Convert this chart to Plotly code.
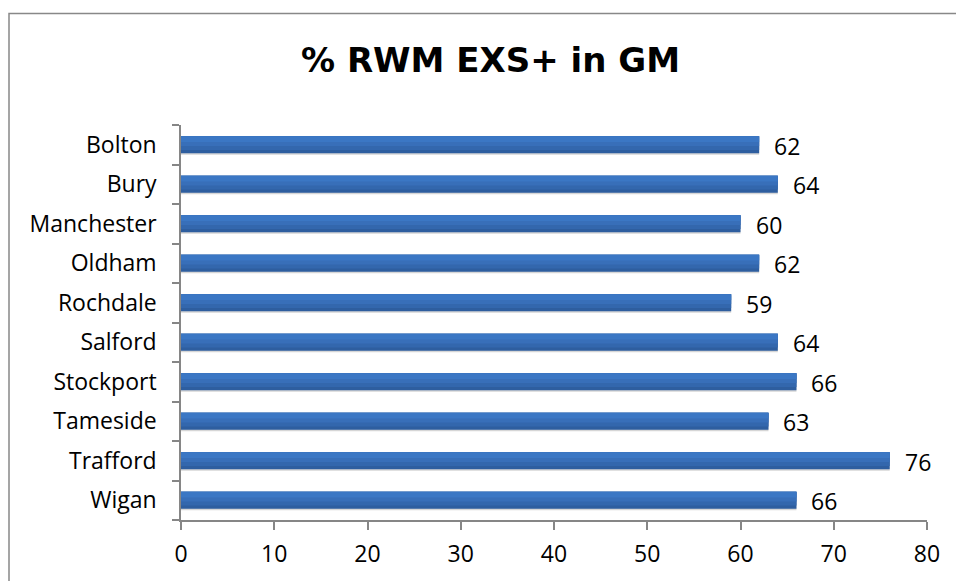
import plotly.graph_objects as go

categories = ["Bolton", "Bury", "Manchester", "Oldham", "Rochdale", "Salford",
              "Stockport", "Tameside", "Trafford", "Wigan"]
values = [62, 64, 60, 62, 59, 64, 66, 63, 76, 66]
x_ticks = [0, 10, 20, 30, 40, 50, 60, 70, 80]
title_text = "% RWM EXS+ in GM"

FONT = "Open Sans, Liberation Sans, sans-serif"
TITLE_FONT = "DejaVu Sans, Open Sans, sans-serif"

W, H = 956, 581
L, R, T, B = 181, 927, 125, 522
pw, ph = R - L, B - T

fig = go.Figure()
layers = [
    # (offset, width, colour)
    (-0.25, 0.43, "#d6d6d6"),
    (-0.215, 0.43, "#2e5e9f"),
    (-0.13, 0.345, "#3367ad"),
    (-0.03, 0.245, "#386fb9"),
    (0.07, 0.145, "#3b77c4"),
]
for off, wd, col in layers:
    fig.add_trace(go.Bar(
        y=categories, x=values, orientation="h", width=wd, offset=off,
        marker=dict(color=col, line=dict(width=0)),
        hoverinfo="skip", showlegend=False,
    ))

for c, v in zip(categories, values):
    fig.add_annotation(x=v, y=c, text=str(v), showarrow=False,
                       xanchor="left", xshift=13, yshift=-1,
                       font=dict(family=FONT, size=23, color="#000000"))

fig.update_layout(
    width=W, height=H,
    margin=dict(l=L, r=W - R, t=T, b=H - B),
    paper_bgcolor="white", plot_bgcolor="white",
    barmode="overlay",
    title=dict(text="<b>" + title_text + "</b>", x=490.5 / W, xanchor="center",
               y=1 - 60 / H, yanchor="middle",
               font=dict(family=TITLE_FONT, size=34, color="#000000")),
    xaxis=dict(range=[0, 80], tickvals=x_ticks, ticktext=[str(t) for t in x_ticks],
               showgrid=False, zeroline=False, showline=True,
               linecolor="#868686", linewidth=1.5, ticks="outside",
               ticklen=8, tickcolor="#868686", tickwidth=1.5,
               ticklabelstandoff=5,
               tickfont=dict(family=FONT, size=23, color="#000000")),
    yaxis=dict(categoryorder="array", categoryarray=categories[::-1],
               showgrid=False, zeroline=False, showline=True,
               linecolor="#868686", linewidth=1.5, ticks="outside",
               ticklen=7, tickcolor="#868686", tickwidth=1.5,
               tickson="boundaries", ticklabelstandoff=18,
               tickfont=dict(family=FONT, size=23, color="#000000")),
    shapes=[dict(type="rect", xref="paper", yref="paper",
                 x0=(9 - L) / pw, x1=(975 - L) / pw,
                 y0=(B - 600) / ph, y1=(B - 13) / ph,
                 line=dict(color="#888888", width=1.5), layer="below")],
)

fig.write_html("out.html", config={"displayModeBar": False},
               post_script="document.body.style.margin='0';document.body.style.overflow='hidden';")
